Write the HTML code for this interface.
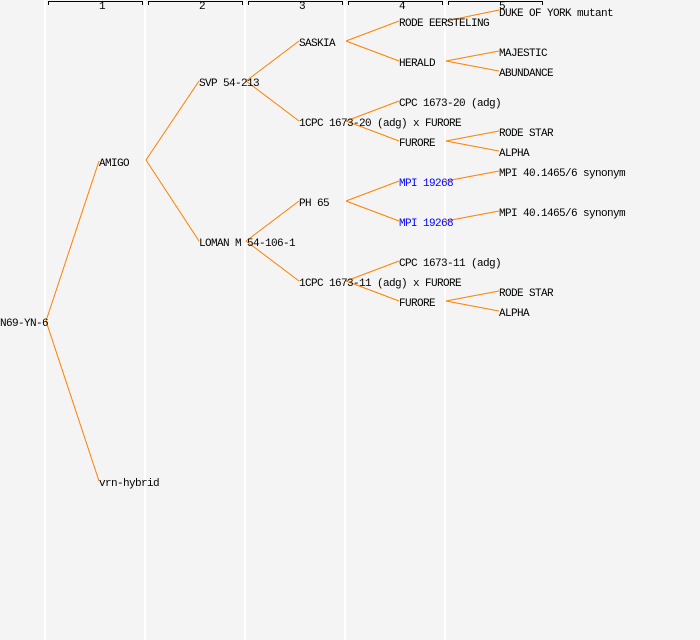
<!DOCTYPE html>
<html><head><style>html,body{margin:0;padding:0;background:#f4f4f4}svg{display:block}text{font-family:"Liberation Mono","DejaVu Sans Mono",monospace;font-size:11px;letter-spacing:-0.6px;fill:#000}</style></head><body>
<svg width="700" height="640" xmlns="http://www.w3.org/2000/svg">
<rect width="700" height="640" fill="#f4f4f4"/>
<g stroke="#fff" stroke-width="2">
<line x1="45" y1="0" x2="45" y2="640"/><line x1="145" y1="0" x2="145" y2="640"/><line x1="245" y1="0" x2="245" y2="640"/><line x1="345" y1="0" x2="345" y2="640"/><line x1="445" y1="0" x2="445" y2="640"/>
</g>
<g stroke="#000" stroke-width="1" fill="none">
<path d="M48.5 5V1.5H142.5V5"/><path d="M148.5 5V1.5H242.5V5"/><path d="M248.5 5V1.5H342.5V5"/><path d="M348.5 5V1.5H442.5V5"/><path d="M448.5 5V1.5H542.5V5"/>
</g>
<g style="font-size:7px;letter-spacing:0" text-anchor="middle"><text x="102" y="9">1</text><text x="202" y="9">2</text><text x="302" y="9">3</text><text x="402" y="9">4</text><text x="502" y="9">5</text></g>
<g stroke="#ff8000" stroke-width="1" fill="none">
<path d="M46 321L99 161M46 321L99 481"/>
<path d="M146 160L199 81M146 160L199 241"/>
<path d="M246 81L299 41M246 81L299 121"/>
<path d="M246 241L299 201M246 241L299 281"/>
<path d="M346 41L399 21M346 41L399 61"/>
<path d="M346 121L399 101M346 121L399 141"/>
<path d="M346 201L399 181M346 201L399 221"/>
<path d="M346 281L399 261M346 281L399 301"/>
<path d="M446 21L499 10"/>
<path d="M446 61L499 51M446 61L499 71"/>
<path d="M446 141L499 131M446 141L499 151"/>
<path d="M446 181L499 171"/>
<path d="M446 221L499 211"/>
<path d="M446 301L499 291M446 301L499 311"/>
</g>
<g>
<text x="0" y="326">N69-YN-6</text>
<text x="99" y="166">AMIGO</text>
<text x="99" y="486">vrn-hybrid</text>
<text x="199" y="86">SVP 54-213</text>
<text x="199" y="246">LOMAN M 54-106-1</text>
<text x="299" y="46">SASKIA</text>
<text x="299" y="126">1CPC 1673-20 (adg) x FURORE</text>
<text x="299" y="206">PH 65</text>
<text x="299" y="286">1CPC 1673-11 (adg) x FURORE</text>
<text x="399" y="26">RODE EERSTELING</text>
<text x="399" y="66">HERALD</text>
<text x="399" y="106">CPC 1673-20 (adg)</text>
<text x="399" y="146">FURORE</text>
<text x="399" y="186" style="fill:#0000ff">MPI 19268</text>
<text x="399" y="226" style="fill:#0000ff">MPI 19268</text>
<text x="399" y="266">CPC 1673-11 (adg)</text>
<text x="399" y="306">FURORE</text>
<text x="499" y="16">DUKE OF YORK mutant</text>
<text x="499" y="56">MAJESTIC</text>
<text x="499" y="76">ABUNDANCE</text>
<text x="499" y="136">RODE STAR</text>
<text x="499" y="156">ALPHA</text>
<text x="499" y="176">MPI 40.1465/6 synonym</text>
<text x="499" y="216">MPI 40.1465/6 synonym</text>
<text x="499" y="296">RODE STAR</text>
<text x="499" y="316">ALPHA</text>
</g>
</svg>
</body></html>
